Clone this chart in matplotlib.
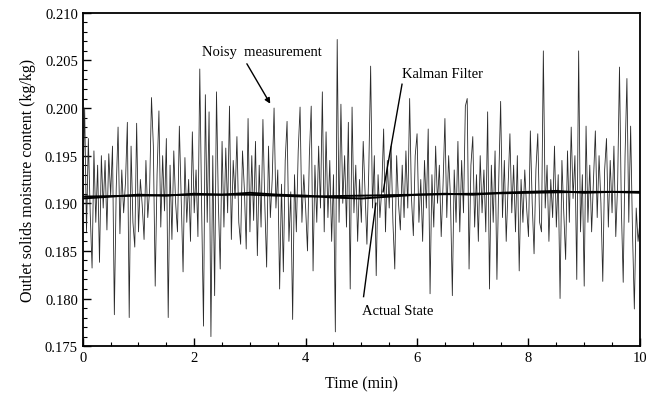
import numpy as np
import matplotlib
matplotlib.use('Agg')
import matplotlib.pyplot as plt
from matplotlib.ticker import MultipleLocator, FormatStrFormatter

noisy = [
    0.1905, 0.2000, 0.1870, 0.1968, 0.1890, 0.1832, 0.1955, 0.1880, 0.1940, 0.1838,
    0.1950, 0.1895, 0.1945, 0.1872, 0.1952, 0.1908, 0.1960, 0.1783, 0.1915, 0.1980,
    0.1868, 0.1935, 0.1890, 0.1922, 0.1985, 0.1780, 0.1960, 0.1880, 0.1854, 0.1984,
    0.1870, 0.1925, 0.1898, 0.1862, 0.1945, 0.1885, 0.1915, 0.2011, 0.1960, 0.1813,
    0.1930, 0.1997, 0.1875, 0.1950, 0.1892, 0.1968, 0.1780, 0.1940, 0.1862, 0.1955,
    0.1900, 0.1870, 0.1981, 0.1905, 0.1828, 0.1948, 0.1880, 0.1925, 0.1860, 0.1975,
    0.1890, 0.1935, 0.1865, 0.2041, 0.1895, 0.1771, 0.2014, 0.1880, 0.1996, 0.1760,
    0.1950, 0.1803, 0.2017, 0.1900, 0.1831, 0.1965, 0.1875, 0.1958, 0.1890, 0.2002,
    0.1862, 0.1945, 0.1905, 0.1970, 0.1880, 0.1857, 0.1955, 0.1915, 0.1852, 0.1989,
    0.1870, 0.1950, 0.1882, 0.1965, 0.1845, 0.1940, 0.1875, 0.1988, 0.1900, 0.1833,
    0.1960, 0.1885, 0.1925, 0.2000, 0.1895, 0.1935, 0.1810, 0.1920, 0.1828, 0.1945,
    0.1986, 0.1860, 0.1912, 0.1778, 0.1930, 0.1870, 0.1955, 0.2001, 0.1880, 0.1930,
    0.1895, 0.1850, 0.1950, 0.2002, 0.1829, 0.1940, 0.1880, 0.1960, 0.1895, 0.2017,
    0.1870, 0.1975, 0.1885, 0.1945, 0.1860, 0.1930, 0.1765, 0.2072, 0.1880, 0.2004,
    0.1900, 0.1950, 0.1875, 0.1985, 0.1810, 0.2001, 0.1890, 0.1940, 0.1860, 0.1925,
    0.1880, 0.1965, 0.1910, 0.1857, 0.1935, 0.2044, 0.1895, 0.1950, 0.1824, 0.1930,
    0.1885, 0.1915, 0.1978, 0.1870, 0.1945, 0.1895, 0.1960, 0.1880, 0.1831, 0.1950,
    0.1900, 0.1872, 0.1940, 0.1885, 0.1955, 0.1895, 0.2010, 0.1905, 0.1866, 0.1950,
    0.1973, 0.1880, 0.1925, 0.1860, 0.1945, 0.1895, 0.1978, 0.1805, 0.1930, 0.1875,
    0.1960, 0.1900, 0.1940, 0.1865, 0.1920, 0.1989, 0.1885, 0.1950, 0.1905, 0.1803,
    0.1935, 0.1880, 0.1965, 0.1870, 0.1945, 0.1890, 0.2002, 0.2010, 0.1831, 0.1940,
    0.1970, 0.1875, 0.1930, 0.1860, 0.1950, 0.1890, 0.1935, 0.1870, 0.1996, 0.1810,
    0.1940, 0.1880, 0.1955, 0.1820, 0.1925, 0.2007, 0.1885, 0.1945, 0.1860, 0.1915,
    0.1973, 0.1890, 0.1940, 0.1870, 0.1950, 0.1829, 0.1925, 0.1880, 0.1935, 0.1895,
    0.1865, 0.1976, 0.1900, 0.1847, 0.1935, 0.1973, 0.1880, 0.1870, 0.2060, 0.1895,
    0.1940, 0.1860, 0.1925, 0.1885, 0.1960, 0.1875, 0.1930, 0.1800, 0.1945, 0.1890,
    0.1841, 0.1955, 0.1880, 0.1980, 0.1905, 0.1950, 0.1820, 0.2060, 0.1870, 0.1930,
    0.1813, 0.1981, 0.1880, 0.1940, 0.1870, 0.1925, 0.1976, 0.1885, 0.1950, 0.1900,
    0.1818, 0.1935, 0.1968, 0.1875, 0.1945, 0.1890, 0.1960, 0.1865, 0.1920, 0.2043,
    0.1895, 0.1817, 0.1950, 0.2031, 0.1880, 0.1981, 0.1870, 0.1789, 0.1895, 0.1860,
    0.1880,
]
noisy_time = np.arange(len(noisy)) / 30.0

# actual state (per minute)
actual_time = [0, 1, 2, 3, 4, 5, 6, 7, 8, 9, 10]
actual = [0.1907, 0.1908, 0.1909, 0.1909, 0.1907, 0.1908, 0.1909, 0.1910, 0.1911, 0.1912, 0.1912]

# kalman filter estimate (every half minute)
kalman_time = [0, 0.5, 1, 1.5, 2, 2.5, 3, 3.5, 4, 4.5, 5, 5.5, 6, 6.5, 7, 7.5, 8, 8.5, 9, 9.5, 10]
kalman = [0.1905, 0.1907, 0.1909, 0.1908, 0.1910, 0.1909, 0.1911, 0.1909, 0.1908, 0.1906, 0.1905,
          0.1907, 0.1909, 0.1910, 0.1909, 0.1911, 0.1912, 0.1913, 0.1911, 0.1912, 0.1911]

plt.rcParams['font.family'] = ['Liberation Serif', 'DejaVu Serif']

fig = plt.figure(figsize=(6.57, 4.06), dpi=100)
ax = fig.add_axes([0.126, 0.145, 0.848, 0.821])

ax.plot(noisy_time, noisy, color='#2a2a2a', lw=0.6)
ax.plot(actual_time, actual, color='black', lw=1.4)
ax.plot(kalman_time, kalman, color='black', lw=1.4)

ax.set_xlim(0, 10)
ax.set_ylim(0.175, 0.210)
ax.xaxis.set_major_locator(MultipleLocator(2))
ax.xaxis.set_minor_locator(MultipleLocator(0.5))
ax.yaxis.set_major_locator(MultipleLocator(0.005))
ax.yaxis.set_minor_locator(MultipleLocator(0.001))
ax.yaxis.set_major_formatter(FormatStrFormatter('%.3f'))
ax.tick_params(which='both', direction='in', top=False, right=False, labelsize=10.5)
ax.tick_params(which='major', length=6, width=1)
ax.tick_params(which='minor', length=3, width=0.8)
for s in ax.spines.values():
    s.set_linewidth(1.3)

ax.set_xlabel('Time (min)', fontsize=11.5, labelpad=8)
ax.set_ylabel('Outlet solids moisture content (kg/kg)', fontsize=11.5, labelpad=6)

# annotations
ax.text(3.21, 0.2059, 'Noisy  measurement', ha='center', va='center', fontsize=10.5)
ax.annotate('', xy=(3.39, 0.2002), xytext=(2.92, 0.2049),
            arrowprops=dict(arrowstyle='-|>', color='black', lw=1.0, mutation_scale=8))
ax.text(6.46, 0.2036, 'Kalman Filter', ha='center', va='center', fontsize=10.5)
ax.plot([5.73, 5.39], [0.2025, 0.1912], color='black', lw=1.0)
ax.text(5.66, 0.1787, 'Actual State', ha='center', va='center', fontsize=10.5)
ax.plot([5.04, 5.26], [0.1802, 0.1900], color='black', lw=1.0)

fig.savefig('out.png', dpi=100)
